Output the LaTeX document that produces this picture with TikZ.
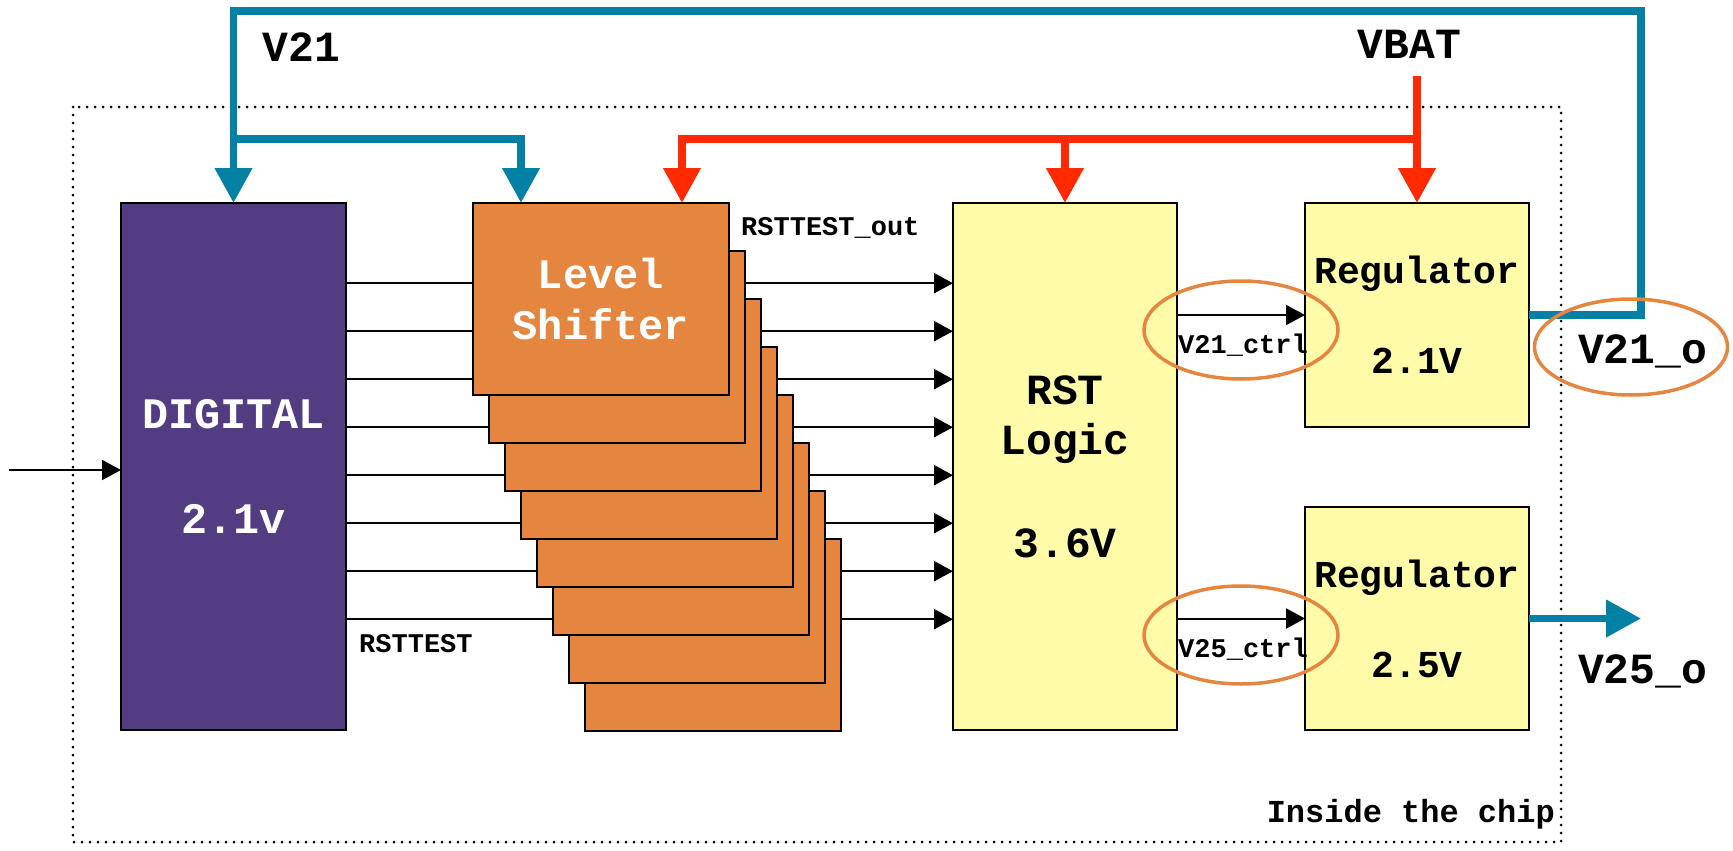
\documentclass[tikz,border=0pt]{standalone}
\usepackage{fontspec}
\setmonofont{Liberation Mono}
\usetikzlibrary{arrows.meta}

\definecolor{railblue}{RGB}{3,129,164}
\definecolor{railred}{RGB}{255,42,0}
\definecolor{lsorange}{RGB}{229,134,64}
\definecolor{digpurple}{RGB}{83,61,130}
\definecolor{paleyellow}{RGB}{255,251,168}

\newcommand{\mysize}[2]{\fontsize{#1pt}{#2pt}\selectfont}

\tikzset{
  blockbox/.style={draw=black, line width=2pt, inner sep=0pt, outer sep=0pt,
    anchor=north west, align=center, font=\ttfamily\bfseries},
  sig/.style={draw=black, line width=2pt, -{Triangle[length=19pt,width=20pt]}},
  rail/.style={line width=7.5pt},
  railtip/.style={-{Triangle[length=35pt,width=36pt]}},
  ring/.style={draw=lsorange, line width=3.5pt},
  lbl/.style={inner sep=0pt, font=\ttfamily\bfseries},
}

\begin{document}
\begin{tikzpicture}[x=1pt, y=-1pt]
\useasboundingbox (0,0) rectangle (1733,851);

% chip outline
\draw[line width=3pt, line cap=round, dash pattern=on 0pt off 8pt]
  (73,107) rectangle (1561,842);
\node[lbl, anchor=base east, font=\ttfamily\bfseries\mysize{32}{36}] (chiplbl) at (1555,822) {Inside the chip};

% blocks
\node[blockbox, fill=digpurple, text=white, minimum width=225pt, minimum height=527pt,
      font=\ttfamily\bfseries\mysize{43.5}{105}] (dig) at (121,203) {DIGITAL\\2.1v};
\node[blockbox, fill=paleyellow, minimum width=224pt, minimum height=527pt,
      font=\ttfamily\bfseries\mysize{43}{50}] (rst) at (953,203) {RST\\Logic\\[53pt]3.6V};
\node[blockbox, fill=paleyellow, minimum width=224pt, minimum height=224pt,
      font=\ttfamily\bfseries\mysize{38}{90}] (reg1) at (1305,203) {Regulator\\2.1V};
\node[blockbox, fill=paleyellow, minimum width=224pt, minimum height=223pt,
      font=\ttfamily\bfseries\mysize{38}{90}] (reg2) at (1305,507) {Regulator\\2.5V};

% signal lines from DIGITAL to RST Logic
\foreach \i in {0,...,7}{
  \coordinate (row\i) at (0,{283.2+48*\i});
  \draw[sig] (dig.east |- row\i) -- (rst.west |- row\i);
}

% stacked level shifters, back to front
\foreach \k in {7,6,...,1}{
  \node[blockbox, fill=lsorange, minimum width=256pt, minimum height=192pt]
    (ls\k) at ({473+16*\k},{203+48*\k}) {};
}
\node[blockbox, fill=lsorange, text=white, minimum width=256pt, minimum height=192pt,
      font=\ttfamily\bfseries\mysize{42}{51}] (ls0) at (473,203) {Level\\Shifter};

% input
\coordinate (src) at (9,470);
\draw[sig] (src) -- (dig.west |- src);

% control signals
\coordinate (c21) at (0,315);
\coordinate (c25) at (0,618.5);
\draw[sig] (rst.east |- c21) -- (reg1.west);
\draw[sig] (rst.east |- c25) -- (reg2.west);

% labels
\node[lbl, anchor=base west, font=\ttfamily\bfseries\mysize{27}{30}] (rstout) at (741,235) {RSTTEST\_out};
\node[lbl, anchor=base west, font=\ttfamily\bfseries\mysize{27}{30}] (rsttest) at (359,652) {RSTTEST};
\node[lbl, anchor=base west, font=\ttfamily\bfseries\mysize{27}{30}] (ctl21) at (1178,353) {V21\_ctrl};
\node[lbl, anchor=base west, font=\ttfamily\bfseries\mysize{27}{30}] (ctl25) at (1178,657) {V25\_ctrl};
\node[lbl, anchor=base, font=\ttfamily\bfseries\mysize{43}{48}] (v21) at (301.5,62) {V21};
\node[lbl, anchor=base, font=\ttfamily\bfseries\mysize{43}{48}] (vbat) at (1409.5,59) {VBAT};
\node[lbl, anchor=base, font=\ttfamily\bfseries\mysize{43}{48}] (v21o) at (1642.5,363) {V21\_o};
\node[lbl, anchor=base, font=\ttfamily\bfseries\mysize{43}{48}] (v25o) at (1642.5,683) {V25\_o};

% V21 rail: regulator output fed back to DIGITAL and the level shifters
\coordinate (fbR) at (1641,315);
\coordinate (topR) at (1641,11);
\coordinate (topL) at (233.5,11);
\coordinate (brL) at (233.5,139);
\coordinate (brR) at (521,139);
\draw[rail, railblue, railtip] (reg1.east) -- (fbR) -- (topR) -- (topL) -- (dig.north);
\draw[rail, railblue, railtip] (brL) -- (brR) -- (ls0.north -| brR);

% V25 output
\coordinate (out25) at (1641,618.5);
\draw[rail, railblue, railtip] (reg2.east) -- (out25);

% VBAT rail
\coordinate (vbtop) at (1417,76);
\coordinate (vbL) at (1417,139);
\coordinate (vbLS) at (682,139);
\draw[rail, railred, railtip] (vbtop) -- (reg1.north);
\draw[rail, railred, railtip] (vbL) -- (vbLS) -- (ls0.north -| vbLS);
\draw[rail, railred, railtip] (rst.north |- vbL) -- (rst.north);

% highlight rings
\draw[ring] (1241,330) ellipse [x radius=97, y radius=49];
\draw[ring] (1241,635) ellipse [x radius=97, y radius=49];
\draw[ring] (1631,347) ellipse [x radius=96.5, y radius=48];
\end{tikzpicture}
\end{document}
